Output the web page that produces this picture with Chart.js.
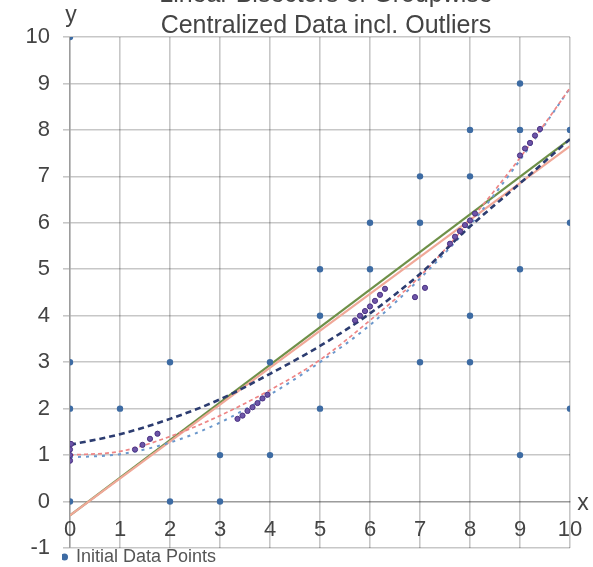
<!DOCTYPE html>
<html><head><meta charset="utf-8">
<script src="https://cdn.jsdelivr.net/npm/chart.js@4.4.1/dist/chart.umd.min.js"></script>
<style>html,body{margin:0;padding:0;background:#fff}#wrap{width:593px;height:567px}</style>
</head><body><div id="wrap"><canvas id="c" width="593" height="567"></canvas></div>
<script>
const titleLines = ["Linear Bisectors of Groupwise", "Centralized Data incl. Outliers"];
const xAxisTitle = "x";
const yAxisTitle = "y";
const legendLabel = "Initial Data Points";

const initialX = [0,0,0,0, 1, 2,2, 3,3, 4,4, 5,5,5, 6,6, 7,7,7, 8,8,8,8, 9,9,9,9, 10,10,10];
const initialY = [10,3,2,0, 2, 3,0, 1,0, 3,1, 5,4,2, 6,5, 7,6,3, 8,7,4,3, 9,8,5,1, 8,6,2];

const centeredX = [0,0,0,0.02, 1.3,1.45,1.6,1.75, 3.35,3.45,3.55,3.65,3.75,3.85,3.95,
  5.7,5.8,5.9,6.0,6.1,6.2,6.3, 6.9,7.1, 7.6,7.7,7.8,7.9,8.0,8.1, 9.0,9.1,9.2,9.3,9.4];
const centeredY = [0.88,1.0,1.12,1.24, 1.12,1.22,1.35,1.46, 1.78,1.85,1.95,2.03,2.12,2.22,2.3,
  3.9,4.0,4.1,4.2,4.32,4.45,4.58, 4.4,4.6, 5.55,5.7,5.82,5.95,6.05,6.2, 7.45,7.6,7.72,7.88,8.02];

const curveX = [0,1,2,3,4,5,6,7,8,9,10];
const navyY = [1.22,1.45,1.78,2.2,2.75,3.35,4.05,4.9,5.92,6.85,7.8];
const pinkY = [1.0,1.08,1.4,1.85,2.4,3.05,3.9,4.85,6.05,7.4,8.9];
const lightBlueY = [0.95,1.02,1.27,1.7,2.3,3.0,3.8,4.8,5.95,7.35,8.9];

const lineX = [0,10];
const greenY = [-0.3,7.8];
const salmonY = [-0.3,7.65];

const zip = (xs, ys) => xs.map((x, i) => ({x: x, y: ys[i]}));
const FONT = '"Liberation Sans", Arial, sans-serif';
const GRID = 'rgba(0,0,0,0.22)';

const axisLetters = {
  id: 'axisLetters',
  afterDraw(chart) {
    const {ctx} = chart; const xs = chart.scales.x, ys = chart.scales.y;
    ctx.save();
    ctx.font = '23px ' + FONT; ctx.fillStyle = '#444';
    ctx.textAlign = 'center'; ctx.textBaseline = 'middle';
    ctx.fillText(yAxisTitle, xs.getPixelForValue(0) + 1, ys.getPixelForValue(10) - 21);
    ctx.fillText(xAxisTitle, xs.getPixelForValue(10) + 13, ys.getPixelForValue(0) + 2);
    ctx.restore();
  }
};
const boxShift = {
  id: 'boxShift',
  beforeDraw(chart) {
    if (chart.legend) { chart.legend.left = 62; }
    if (chart.titleBlock && !chart.titleBlock._shifted) {
      chart.titleBlock.left += 6; chart.titleBlock.right += 6; chart.titleBlock._shifted = true;
    }
  },
  afterLayout(chart) { if (chart.titleBlock) chart.titleBlock._shifted = false; }
};

new Chart(document.getElementById('c'), {
  type: 'scatter',
  data: {
    datasets: [
      {label: legendLabel, data: zip(initialX, initialY), backgroundColor: '#3d6ba3', borderColor: '#3d6ba3', pointRadius: 3.2, borderWidth: 0, order: 0},
      {label: 'centered', data: zip(centeredX, centeredY), backgroundColor: '#6d55a8', borderColor: '#4a3282', pointRadius: 2.6, borderWidth: 1, order: 1},
      {label: 'navy', type: 'line', data: zip(curveX, navyY), borderColor: '#2c3c70', borderWidth: 2.6, borderDash: [6,4], pointRadius: 0, fill: false, cubicInterpolationMode: 'monotone', order: 3},
      {label: 'pink', type: 'line', data: zip(curveX, pinkY), borderColor: '#ee8585', borderWidth: 1.7, borderDash: [4,3], pointRadius: 0, fill: false, cubicInterpolationMode: 'monotone', order: 4},
      {label: 'lightblue', type: 'line', data: zip(curveX, lightBlueY), borderColor: '#6c98cc', borderWidth: 2, borderDash: [3,5], pointRadius: 0, fill: false, cubicInterpolationMode: 'monotone', order: 5},
      {label: 'salmon', type: 'line', data: zip(lineX, salmonY), borderColor: '#f0a898', borderWidth: 2.2, pointRadius: 0, fill: false, order: 6},
      {label: 'green', type: 'line', data: zip(lineX, greenY), borderColor: '#6e9048', borderWidth: 2.2, pointRadius: 0, fill: false, order: 7}
    ]
  },
  options: {
    responsive: false, animation: false,
    layout: {padding: {left: 0, right: 23, top: 0, bottom: -9}},
    scales: {
      x: {type: 'linear', min: 0, max: 10, position: {y: 0},
        ticks: {stepSize: 1, font: {family: FONT, size: 22}, color: '#444', padding: 15},
        grid: {color: GRID, lineWidth: 1.6, drawTicks: false},
        border: {color: GRID, width: 1.6},
        afterFit: s => { s.paddingLeft = 0; s.paddingRight = 0; }},
      y: {type: 'linear', min: -1, max: 10, position: 'left',
        ticks: {stepSize: 1, font: {family: FONT, size: 22}, color: '#444', padding: 13},
        grid: {color: GRID, lineWidth: 1.6, drawTicks: true, tickLength: 7},
        border: {color: GRID, width: 1.6},
        afterFit: s => { s.width = 70; s.paddingTop = 0; s.paddingBottom = 0; }}
    },
    plugins: {
      title: {display: true, text: titleLines, fullSize: false, color: '#444',
        font: {family: FONT, size: 25, weight: 'normal', lineHeight: 1.22},
        padding: {top: -19.75, bottom: -4.25}},
      legend: {display: true, position: 'bottom', align: 'start',
        labels: {filter: item => item.datasetIndex === 0, usePointStyle: true, pointStyle: 'circle',
          boxWidth: 5, boxHeight: 5, padding: 0, color: '#555', font: {family: FONT, size: 18}}},
      tooltip: {enabled: false}
    }
  },
  plugins: [axisLetters, boxShift]
});
</script></body></html>
